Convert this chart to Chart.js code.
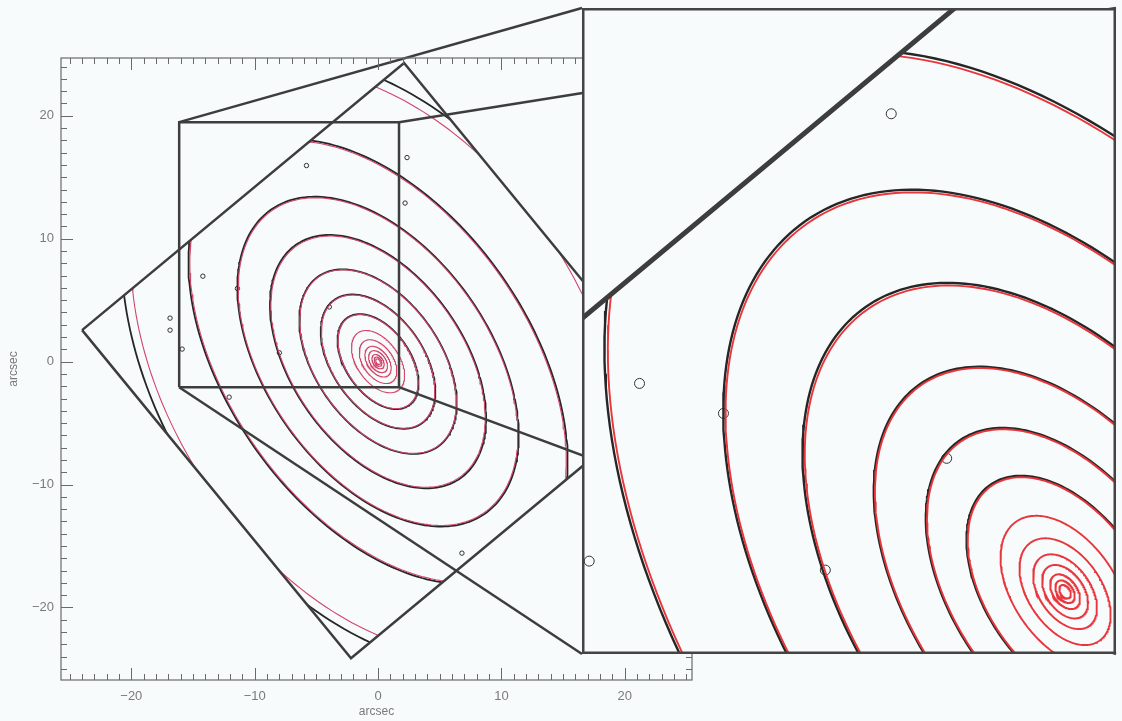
<!DOCTYPE html>
<html>
<head>
<meta charset="utf-8">
<script src="https://cdn.jsdelivr.net/npm/chart.js@4.4.1/dist/chart.umd.min.js"></script>
<style>
  html, body { margin: 0; padding: 0; background: #f8fbfb; }
  #main { position: absolute; left: 0; top: 0; width: 1122px; height: 721px; }
  #zoom { position: absolute; left: 582px; top: 8px; width: 534px; height: 646px; background: #f8fbfb; }
</style>
</head>
<body>
<div id="main"><canvas id="mainChart"></canvas></div>
<div id="zoom"><canvas id="zoomChart"></canvas></div>
<script>
/* ── Isophotes: semi-major axis (arcsec), axis ratio b/a, major-axis angle (deg from +x) ── */
const modelSma = [0.25, 0.42, 0.65, 1.0, 1.4, 2.0, 2.85, 4.3, 6.1, 8.4, 11.5, 15.0, 20.2, 26.0];
const modelQ   = [0.64, 0.63, 0.62, 0.62, 0.61, 0.61, 0.60, 0.60, 0.60, 0.60, 0.60, 0.60, 0.60, 0.66];
const modelPa  = [-55, -55, -55, -55, -55, -55, -55, -55, -55, -55, -55, -55, -55, -58];

// measured contours (only the outer ones show from under the model)
const dataSma = [4.35, 6.15, 8.45, 11.6, 15.1, 20.35, 27.0];
const dataQ   = [0.60, 0.60, 0.60, 0.60, 0.60, 0.60, 0.66];
const dataPa  = [-55, -55, -55, -55, -55, -55, -58];

// small sources in the field
const blobX = [-16.86, -16.86, -15.88, -12.07, -3.95, -5.8, 2.35, 2.19, 6.8, -14.2, -11.4, -8.0];
const blobY = [3.54, 2.56, 1.02, -2.89, 4.45, 15.95, 16.6, 12.9, -15.58, 6.95, 5.95, 0.72];

/* ── Image footprint (rotated square) and zoom window ── */
const frameX = [-23.99, 2.11, 23.91, -2.19];
const frameY = [2.56, 24.30, -2.39, -24.13];
const zoomX = [-16.12, 1.70];
const zoomY = [-2.08, 19.48];

/* ── Axes ── */
const xRange = [-25.7, 25.45];
const yRange = [-25.9, 24.7];
const xTickLabels = [-20, -10, 0, 10, 20];
const yTickLabels = [-20, -10, 0, 10, 20];

const LINE = "#3d3d3d";
const AXIS_GREY = "#7a7a7a";
const FONT = "'Liberation Sans', Arial, sans-serif";

function ellipse(a, q, paDeg, n) {
  const th = paDeg * Math.PI / 180, c = Math.cos(th), s = Math.sin(th);
  const pts = [];
  for (let i = 0; i <= n; i++) {
    const t = 2 * Math.PI * i / n;
    const u = a * Math.cos(t), v = a * q * Math.sin(t);
    pts.push({ x: u * c - v * s, y: u * s + v * c });
  }
  return pts;
}

function buildDatasets(st) {
  const sets = [];
  const frame = frameX.map((x, i) => ({ x, y: frameY[i] }));
  frame.push(frame[0]);
  sets.push({ data: frame, borderColor: LINE, borderWidth: st.frameW, order: 0, clip: false, borderJoinStyle: "miter" });
  if (st.box) {
    const box = [
      { x: zoomX[0], y: zoomY[0] }, { x: zoomX[0], y: zoomY[1] },
      { x: zoomX[1], y: zoomY[1] }, { x: zoomX[1], y: zoomY[0] }, { x: zoomX[0], y: zoomY[0] }
    ];
    sets.push({ data: box, borderColor: LINE, borderWidth: st.frameW, order: 0, clip: false, borderJoinStyle: "miter" });
  }
  modelSma.forEach((a, i) => {
    sets.push({ data: ellipse(a, modelQ[i], modelPa[i], 240), borderColor: st.red, borderWidth: st.redW, order: 1, clipFrame: true });
  });
  dataSma.forEach((a, i) => {
    sets.push({ data: ellipse(a, dataQ[i], dataPa[i], 240), borderColor: "#262626", borderWidth: st.blackW, order: 2, clipFrame: true });
  });
  sets.push({
    data: blobX.map((x, i) => ({ x, y: blobY[i] })), showLine: false,
    pointRadius: st.blobR, pointStyle: "circle", pointBorderColor: "#333",
    pointBackgroundColor: "rgba(0,0,0,0)", pointBorderWidth: 1, order: 3, clipFrame: true
  });
  sets.forEach(ds => {
    if (ds.showLine === undefined) { ds.showLine = true; ds.pointRadius = 0; }
    ds.tension = 0;
  });
  return sets;
}

/* ── Clip contours to the image footprint ── */
const frameClip = {
  id: "frameClip",
  beforeDatasetDraw(chart, args) {
    if (!chart.data.datasets[args.index].clipFrame) return;
    const { x, y } = chart.scales;
    const ctx = chart.ctx;
    ctx.save();
    ctx.beginPath();
    frameX.forEach((fx, i) => {
      const px = x.getPixelForValue(fx), py = y.getPixelForValue(frameY[i]);
      if (i) ctx.lineTo(px, py); else ctx.moveTo(px, py);
    });
    ctx.closePath();
    ctx.clip();
  },
  afterDatasetDraw(chart, args) {
    if (chart.data.datasets[args.index].clipFrame) chart.ctx.restore();
  }
};

/* ── Plot box, inward ticks on all sides, lines out to the zoom panel ── */
const axisBox = {
  id: "axisBox",
  afterDatasetsDraw(chart) {
    const { ctx, chartArea: ca, scales: { x, y } } = chart;
    ctx.save();

    // connectors from the zoom window to the enlarged panel
    const zb = document.getElementById("zoom");
    const L = zb.offsetLeft, T = zb.offsetTop, R = L + zb.offsetWidth, B = T + zb.offsetHeight;
    const x0 = x.getPixelForValue(zoomX[0]), x1 = x.getPixelForValue(zoomX[1]);
    const y0 = y.getPixelForValue(zoomY[0]), y1 = y.getPixelForValue(zoomY[1]);
    ctx.strokeStyle = LINE;
    ctx.lineWidth = 2.5;
    [[x0, y1, L, T], [x1, y1, R, T], [x0, y0, L, B], [x1, y0, R, B]].forEach(([a, b, c, d]) => {
      ctx.beginPath(); ctx.moveTo(a, b); ctx.lineTo(c, d); ctx.stroke();
    });

    ctx.strokeStyle = "#6a6a6a";
    ctx.lineWidth = 1.2;
    ctx.strokeRect(ca.left, ca.top, ca.right - ca.left, ca.bottom - ca.top);

    ctx.lineWidth = 1;
    ctx.beginPath();
    for (let v = Math.ceil(xRange[0]); v <= xRange[1]; v++) {
      const len = v % 10 === 0 ? 12 : 6, px = Math.round(x.getPixelForValue(v)) + 0.5;
      ctx.moveTo(px, ca.bottom); ctx.lineTo(px, ca.bottom - len);
      ctx.moveTo(px, ca.top); ctx.lineTo(px, ca.top + len);
    }
    for (let v = Math.ceil(yRange[0]); v <= yRange[1]; v++) {
      const len = v % 10 === 0 ? 12 : 6, py = Math.round(y.getPixelForValue(v)) + 0.5;
      ctx.moveTo(ca.left, py); ctx.lineTo(ca.left + len, py);
      ctx.moveTo(ca.right, py); ctx.lineTo(ca.right - len, py);
    }
    ctx.stroke();
    ctx.restore();
  }
};

const insetBorder = {
  id: "insetBorder",
  afterDraw(chart) {
    const ctx = chart.ctx;
    ctx.save();
    ctx.strokeStyle = "#444";
    ctx.lineWidth = 2.5;
    ctx.strokeRect(1.25, 1.25, chart.width - 2.5, chart.height - 2.5);
    ctx.restore();
  }
};

const fmt = v => (v < 0 ? "\u2212" + Math.abs(v) : String(v));

const baseOptions = {
  responsive: true,
  maintainAspectRatio: false,
  animation: false,
  events: [],
  plugins: { legend: { display: false }, tooltip: { enabled: false } }
};

/* ── Main panel ── */
new Chart(document.getElementById("mainChart"), {
  type: "scatter",
  data: { datasets: buildDatasets({ frameW: 2.5, box: true, red: "#d2456a", redW: 1.1, blackW: 1.8, blobR: 2.2 }) },
  plugins: [frameClip, axisBox],
  options: Object.assign({}, baseOptions, {
    layout: { autoPadding: false, padding: { left: 0, top: 58, right: 430, bottom: 0 } },
    scales: {
      x: {
        type: "linear", min: xRange[0], max: xRange[1],
        afterBuildTicks: s => { s.ticks = xTickLabels.map(v => ({ value: v })); },
        afterFit: s => { s.height = 41; },
        grid: { display: false, drawTicks: false },
        border: { display: false },
        ticks: { callback: fmt, color: AXIS_GREY, font: { family: FONT, size: 13 }, padding: 9, maxRotation: 0, autoSkip: false },
        title: { display: true, text: "arcsec", color: AXIS_GREY, font: { family: FONT, size: 12 }, padding: { top: 0, bottom: 2 } }
      },
      y: {
        type: "linear", min: yRange[0], max: yRange[1],
        afterBuildTicks: s => { s.ticks = yTickLabels.map(v => ({ value: v })); },
        afterFit: s => { s.width = 61; },
        grid: { display: false, drawTicks: false },
        border: { display: false },
        ticks: { callback: fmt, color: AXIS_GREY, font: { family: FONT, size: 13 }, padding: 7, autoSkip: false },
        title: { display: true, text: "arcsec", color: AXIS_GREY, font: { family: FONT, size: 12 }, padding: { top: 6, bottom: 0 } }
      }
    }
  })
});

/* ── Enlarged panel ── */
new Chart(document.getElementById("zoomChart"), {
  type: "scatter",
  data: { datasets: buildDatasets({ frameW: 5, box: false, red: "#e8363c", redW: 1.9, blackW: 2.4, blobR: 5 }) },
  plugins: [frameClip, insetBorder],
  options: Object.assign({}, baseOptions, {
    layout: { autoPadding: false, padding: 0 },
    scales: {
      x: { type: "linear", min: zoomX[0], max: zoomX[1], display: false },
      y: { type: "linear", min: zoomY[0], max: zoomY[1], display: false }
    }
  })
});
</script>
</body>
</html>
